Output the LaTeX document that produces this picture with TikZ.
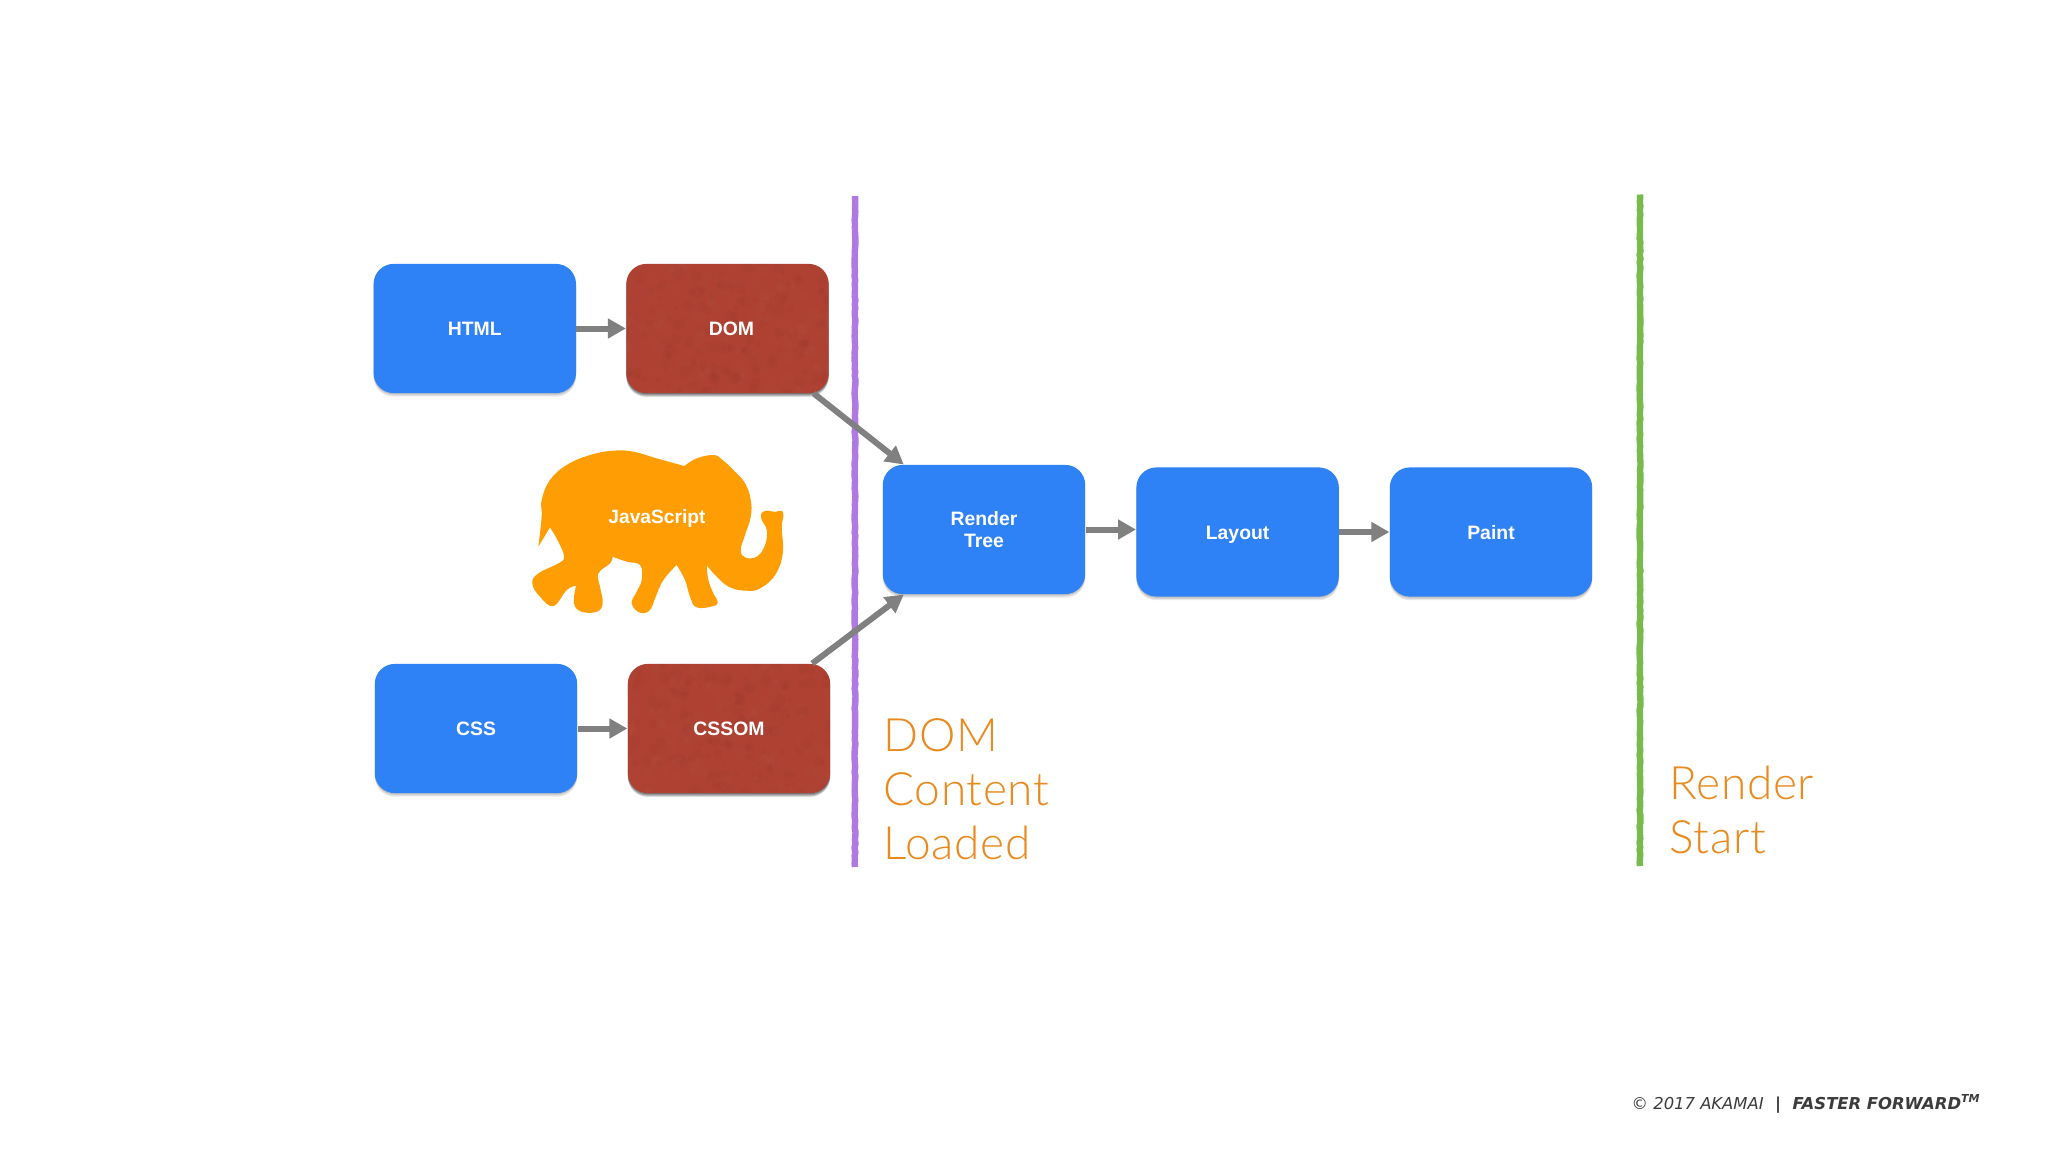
\documentclass[tikz,border=0pt]{standalone}
\usepackage{fontspec}
\setmainfont{Liberation Sans}
\newfontfamily\orangefont[LetterSpace=1.5]{Lato Light}
\newfontfamily\footfont{DejaVu Sans}
\usetikzlibrary{arrows.meta,decorations.pathmorphing}
\definecolor{boxblue}{HTML}{2F82F5}
\definecolor{boxred}{HTML}{AE4131}
\definecolor{elephant}{HTML}{FF9D05}
\definecolor{arrowgray}{HTML}{808080}
\definecolor{purpleline}{HTML}{B078E2}
\definecolor{greenline}{HTML}{78BA4C}
\definecolor{titleorange}{HTML}{E98A1E}
\definecolor{foot}{HTML}{3C3C3C}
\newcommand\boxlabel[1]{\rule{0pt}{7pt}\smash{#1}}
\pgfmathsetseed{2017}
\tikzset{
  softshadow/.style={
    preaction={fill=black,opacity=#1,transform canvas={yshift=-.5pt}},
    preaction={fill=black,opacity=#1,transform canvas={yshift=-1.1pt}},
    preaction={fill=black,opacity=#1,transform canvas={yshift=-1.8pt}}},
  stepbox/.style={rounded corners=10pt,minimum width=101.2pt,minimum height=64.6pt,inner sep=0pt,
    text=white,font=\bfseries\fontsize{9.7}{11}\selectfont,align=center},
  bluebox/.style={stepbox,softshadow=.09,fill=boxblue},
  mottled/.style={path picture={
    \foreach \i in {1,...,160}{
      \pgfmathsetmacro{\px}{rnd*105-52}\pgfmathsetmacro{\py}{rnd*68-34}
      \pgfmathsetmacro{\pr}{rnd*2.5+.6}
      \fill[black,opacity=.015] (path picture bounding box.center)++(\px pt,\py pt) circle (\pr pt);
      \pgfmathsetmacro{\qx}{rnd*105-52}\pgfmathsetmacro{\qy}{rnd*68-34}
      \fill[white,opacity=.012] (path picture bounding box.center)++(\qx pt,\qy pt) circle (\pr pt);
    }}},
  redbox/.style={stepbox,softshadow=.22,fill=boxred,mottled},
  flow/.style={draw=arrowgray,line width=3pt,-{Triangle[length=9pt,width=9.5pt]}},
  rough/.style={line width=3.2pt,decorate,decoration={random steps,segment length=2pt,amplitude=.25pt}},
  bigtext/.style={text=titleorange,font=\orangefont\fontsize{23}{27}\selectfont,align=left,anchor=west,inner sep=0pt},
}
\begin{document}
\begin{tikzpicture}[x=.5pt,y=-.5pt]
\useasboundingbox[fill=white] (0,0) rectangle (2048,1152);
% vertical markers
\coordinate (ptop) at (855,196); \coordinate (pbot) at (855,867);
\coordinate (gtop) at (1640,194.5); \coordinate (gbot) at (1640,866);
\draw[rough,purpleline] (ptop) -- (pbot);
\draw[rough,greenline] (gtop) -- (gbot);
% elephant
\begin{scope}[shift={(500,420)},x=.1667pt,y=-.1667pt]
\fill[elephant]
  plot[smooth,tension=.7] coordinates {(553,138)(590,115)(640,105)(665,118)(700,150)(735,190)(752,240)(752,290)(735,345)(722,390)(735,412)(770,410)(795,375)(800,330)(785,300)(785,278)(805,272)(825,276)(845,272)(850,290)(845,320)(848,400)(825,465)(780,505)(740,512)(690,502)(650,470)(620,435)}
  -- plot[smooth,tension=.7] coordinates {(620,435)(625,480)(640,520)(653,545)(640,558)(590,562)(570,530)(555,480)(530,435)}
  -- plot[smooth,tension=.7] coordinates {(530,435)(490,480)(465,535)(450,570)(420,578)(395,550)(410,515)(425,480)(420,435)(380,425)(338,410)}
  -- plot[smooth,tension=.7] coordinates {(338,410)(330,430)(295,460)(300,500)(308,550)(290,575)(245,575)(222,550)(228,497)}
  -- plot[smooth,tension=.7] coordinates {(228,497)(200,510)(160,558)(120,530)(97,490)(115,460)(175,430)(192,410)(175,365)(150,322)}
  -- (115,380)
  -- plot[smooth,tension=.7] coordinates {(115,380)(125,290)(125,240)(150,180)(200,135)(270,105)(340,92)(400,95)(470,115)(553,138)}
  -- cycle;
\end{scope}
\node[text=white,font=\bfseries\fontsize{9.6}{11}\selectfont,inner sep=0pt] (js) at (657,519) {JavaScript};
% boxes
\node[bluebox] (html) at (474.8,328.5) {\boxlabel{HTML}};
\node[redbox] (dom) at (727.5,328.5) {\hspace*{4pt}\boxlabel{DOM}};
\node[bluebox] (css) at (476,728.5) {\boxlabel{CSS}};
\node[redbox] (cssom) at (729,728.5) {\boxlabel{CSSOM}};
\node[bluebox] (render) at (984,529.5) {Render\\Tree};
\node[bluebox] (layout) at (1237.6,532) {\boxlabel{Layout}};
\node[bluebox] (paint) at (1491,532) {\boxlabel{Paint}};
% connectors
\draw[flow] (html) -- (dom);
\draw[flow] (css) -- (cssom);
\draw[flow] (render.east) -- (render.east -| layout.west);
\draw[flow] (layout) -- (paint);
\draw[flow] (dom.-37.6) -- (render.141.5);
\draw[flow] (cssom.38) -- (render.-141.5);
% labels
\node[bigtext] (dcl) at (883,789) {DOM\\Content\\Loaded};
\node[bigtext] (rs) at (1669,810) {Render\\Start};
\node[anchor=east,inner sep=0pt,text=foot,font=\footfont\fontsize{8.2}{10}\selectfont] (footer) at (1980,1104)
  {\textit{© 2017 AKAMAI}\hspace{.7em}\textbf{|}\hspace{.7em}\textbf{\textit{FASTER FORWARD\raisebox{.4em}{\fontsize{5.5}{6}\selectfont TM}}}};
\end{tikzpicture}
\end{document}
